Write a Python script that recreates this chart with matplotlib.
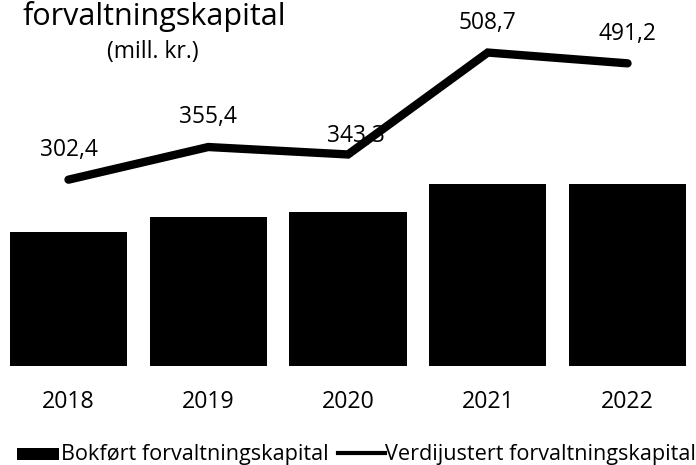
import matplotlib
matplotlib.use("Agg")
import matplotlib.pyplot as plt
from matplotlib.patches import Rectangle
from matplotlib.lines import Line2D

years = ["2018", "2019", "2020", "2021", "2022"]
bokfort = [217.5, 242.0, 250.0, 296.0, 296.0]
verdijustert = [302.4, 355.4, 343.3, 508.7, 491.2]
labels = ["302,4", "355,4", "343,3", "508,7", "491,2"]
label_dy = [30, 30, 18, 30, 29]   # pixel offsets above points
label_dx = [0, 0, 8, 0, 0]
legend_labels = ["Bokført forvaltningskapital", "Verdijustert forvaltningskapital"]

plt.rcParams['font.family'] = ['Open Sans', 'DejaVu Sans']

W, H = 696, 465
fig = plt.figure(figsize=(W/100, H/100), dpi=100)
renderer = fig.canvas.get_renderer()

def fy(py):
    return 1 - py / H

def fit(t, target_w):
    bb = t.get_window_extent(renderer=renderer)
    t.set_fontsize(t.get_fontsize() * target_w / bb.width)
    return t.get_fontsize()

ax = fig.add_axes([0/W, fy(366), 696/W, 366/H])
x = list(range(len(years)))
ax.bar(x, bokfort, width=0.84, color="black", zorder=2)
ax.plot(x, verdijustert, color="black", lw=6, solid_capstyle="round",
        solid_joinstyle="miter", zorder=4)
ax.set_xlim(-0.49, 4.49)
ax.set_ylim(0, 594)
ax.axis("off")

# data labels
lbl_texts = []
for xi, v, t, dy, dx in zip(x, verdijustert, labels, label_dy, label_dx):
    a = ax.annotate(t, (xi, v), xytext=(dx * 0.72, dy * 0.72), textcoords="offset points",
                    ha="center", va="center", fontsize=15, color="black", zorder=3)
    lbl_texts.append(a)
fs = fit(lbl_texts[0], 58)
for a in lbl_texts:
    a.set_fontsize(fs)

# year labels
yr_texts = []
for xi, y in zip(x, years):
    disp = ax.transData.transform((xi, 0))
    t = fig.text(disp[0] / W, fy(401.5), y, ha="center", va="center", fontsize=15)
    yr_texts.append(t)
fs = fit(yr_texts[0], 53)
for t in yr_texts:
    t.set_fontsize(fs)

# title
tt = fig.text(22/W, fy(25), "forvaltningskapital", fontsize=20, ha="left", va="baseline")
fit(tt, 263)
st = fig.text(153/W, fy(58), "(mill. kr.)", fontsize=13, ha="center", va="baseline")
fit(st, 92)

# legend (manual)
fig.patches.append(Rectangle((17/W, fy(460)), 42/W, 12/H, transform=fig.transFigure,
                             facecolor="black", edgecolor="none"))
l1 = fig.text(61/W, fy(460), legend_labels[0], ha="left", va="baseline", fontsize=14)
fs = fit(l1, 267)
fig.lines.append(Line2D([338/W, 385/W], [fy(453), fy(453)], transform=fig.transFigure,
                        color="black", lw=3))
l2 = fig.text(385/W, fy(460), legend_labels[1], ha="left", va="baseline", fontsize=fs)

fig.savefig("out.png", dpi=100, facecolor="white")
